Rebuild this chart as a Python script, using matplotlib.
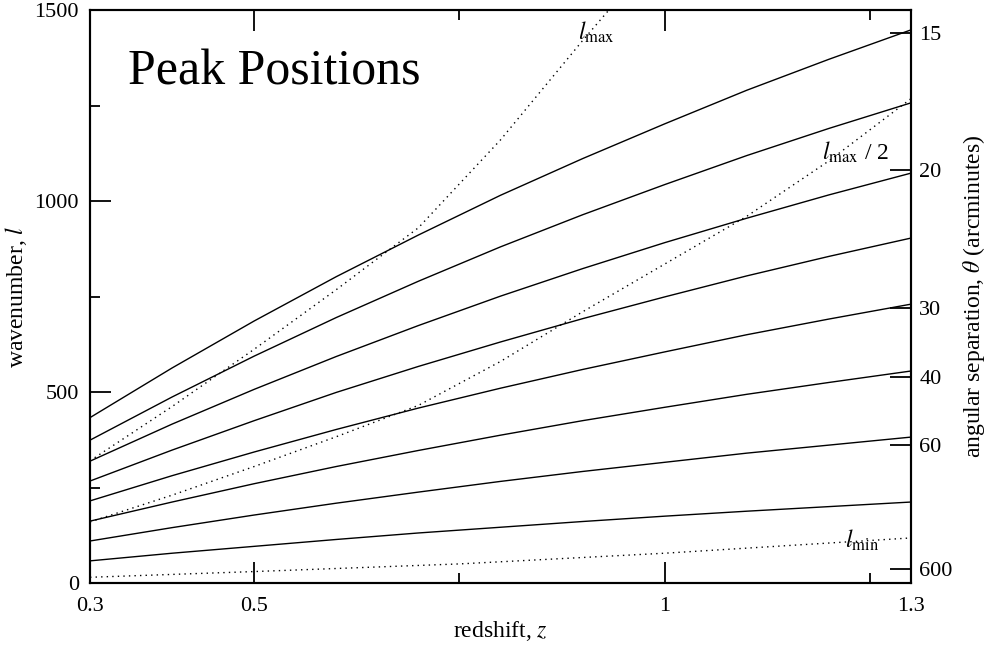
#!/usr/bin/env python3

"""Acoustic peak positions in wavenumber vs redshift, with the l_min / l_max window."""

import matplotlib.pyplot as plt
from matplotlib.ticker import FixedLocator, NullFormatter

plt.rcParams['font.family'] = ['Liberation Serif', 'DejaVu Serif']
plt.rcParams['mathtext.fontset'] = 'stix'

# peak positions l_n(z), first peak at the bottom
z_peaks = [0.3, 0.4, 0.5, 0.6, 0.7, 0.8, 0.9, 1.0, 1.1, 1.2, 1.3]
peaks = [
    [58, 78, 96, 114, 131, 146, 161, 175, 188, 200, 212],
    [110, 145, 178, 209, 238, 266, 292, 316, 340, 361, 382],
    [162, 212, 260, 305, 347, 387, 425, 460, 494, 525, 555],
    [215, 281, 343, 402, 458, 510, 559, 605, 650, 691, 730],
    [267, 348, 425, 499, 567, 631, 692, 749, 804, 855, 903],
    [319, 416, 507, 593, 674, 751, 823, 891, 955, 1016, 1073],
    [374, 487, 594, 695, 790, 880, 964, 1043, 1119, 1190, 1257],
    [433, 563, 686, 802, 911, 1015, 1111, 1202, 1290, 1371, 1448],
]

z_lmin = [0.3, 0.5, 0.75, 1.0, 1.3]
l_min = [15, 30, 50, 78, 118]

z_lmax = [0.3, 0.4, 0.5, 0.6, 0.7, 0.8, 0.9, 0.95]
l_max = [320, 462, 612, 768, 930, 1160, 1420, 1545]

z_half = [0.3, 0.4, 0.5, 0.6, 0.7, 0.8, 0.9, 1.0, 1.1, 1.2, 1.3]
l_max_half = [160, 230, 305, 383, 465, 580, 710, 835, 960, 1105, 1268]

theta_ticks = [15, 20, 30, 40, 60, 600]  # arcminutes

fig = plt.figure(figsize=(9.87, 6.46), dpi=100)
ax = fig.add_axes([0.0912, 0.0975, 0.8318, 0.887])

for row in peaks:
    ax.plot(z_peaks, row, color='black', lw=1.0)

dots = (0, (1, 3))
ax.plot(z_lmin, l_min, color='black', lw=1.0, ls=dots)
ax.plot(z_lmax, l_max, color='black', lw=1.0, ls=dots)
ax.plot(z_half, l_max_half, color='black', lw=1.0, ls=dots)

ax.set_xlim(0.3, 1.3)
ax.set_ylim(0, 1500)

ax.xaxis.set_major_locator(FixedLocator([0.3, 0.5, 1.0, 1.3]))
ax.xaxis.set_minor_locator(FixedLocator([0.75, 1.25]))
ax.set_xticklabels(['0.3', '0.5', '1', '1.3'])
ax.yaxis.set_major_locator(FixedLocator([0, 500, 1000, 1500]))
ax.yaxis.set_minor_locator(FixedLocator([250, 750, 1250]))
ax.xaxis.set_minor_formatter(NullFormatter())
ax.yaxis.set_minor_formatter(NullFormatter())

ax.tick_params(which='both', direction='in', top=True, right=False,
               labelsize=16, width=1.3)
ax.tick_params(axis='x', pad=10)
ax.tick_params(axis='y', pad=8)
ax.tick_params(which='major', length=15)
ax.tick_params(which='minor', length=7)
for sp in ax.spines.values():
    sp.set_linewidth(1.5)

ax.set_xlabel('redshift, $z$', fontsize=17, labelpad=2)
ax.set_ylabel('wavenumber, $l$', fontsize=17, labelpad=4)

# angular scale theta = 21600 / l arcminutes on the right
ax2 = ax.twinx()
ax2.set_ylim(ax.get_ylim())
ax2.yaxis.set_major_locator(FixedLocator([21600 / t for t in theta_ticks]))
ax2.set_yticklabels([str(t) for t in theta_ticks])
ax2.tick_params(direction='in', length=15, width=1.3, labelsize=16, pad=6)
ax2.set_ylabel(r'angular separation, $\theta$ (arcminutes)', fontsize=17,
               labelpad=6)
for sp in ax2.spines.values():
    sp.set_linewidth(1.5)

ax.text(0.346, 1304, 'Peak Positions', fontsize=36, va='baseline')
ax.text(0.894, 1421, r'$l_{\rm max}$', fontsize=17, va='baseline')
ax.text(1.192, 1107, r'$l_{\rm max}$ / 2', fontsize=17, va='baseline')
ax.text(1.22, 92, r'$l_{\rm min}$', fontsize=17, va='baseline')

fig.savefig('out.png', dpi=100)
